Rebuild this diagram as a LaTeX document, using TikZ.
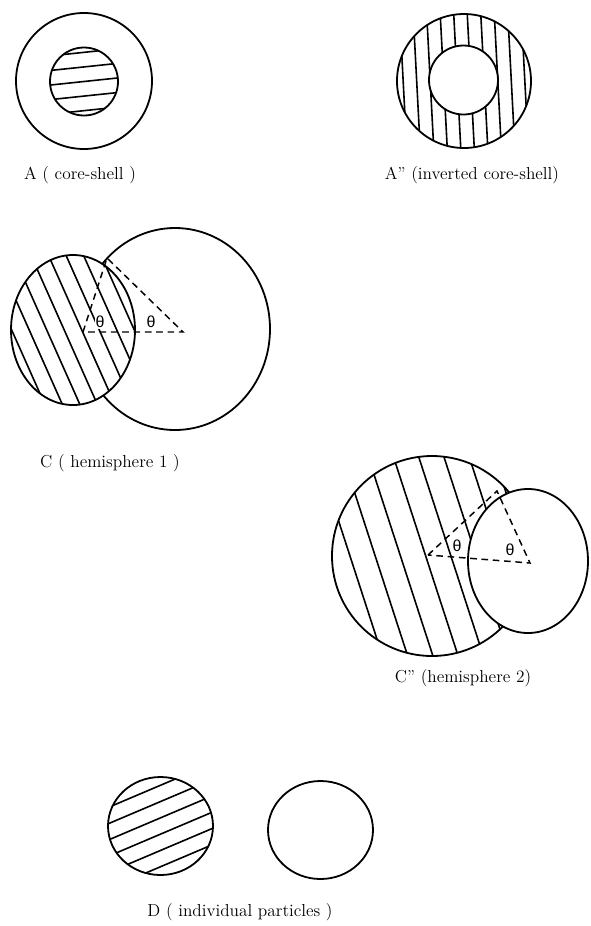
\documentclass[tikz,border=0pt]{standalone}
\usepackage{fontspec}
\newfontfamily\thetafont{Liberation Sans}

\begin{document}
\begin{tikzpicture}[
    x=0.75pt, y=-0.75pt,
    outline/.style={line width=1.35pt},
    hatch/.style={line width=1.2pt},
    dashline/.style={line width=1.1pt, dash pattern=on 5pt off 3.5pt},
    lab/.style={font=\fontsize{13}{15}\selectfont},
    ang/.style={font=\thetafont\fontsize{12}{14}\selectfont, fill=white, inner sep=0.6pt}
]
\useasboundingbox (0,0) rectangle (590,926);

% A: core-shell
\draw[outline] (84,81) circle (68);
\begin{scope}
  \clip (84,81.5) circle (34);
  \begin{scope}[shift={(84,81.5)}, rotate=6]
    \foreach \d in {-29,-14.5,...,30}
      \draw[hatch] (-50,\d) -- (50,\d);
  \end{scope}
\end{scope}
\draw[outline] (84,81.5) circle (34);
\node[lab] (labA) at (80,175) {A ( core-shell )};

% A'': inverted core-shell
\begin{scope}
  \clip (464,81) circle (67);
  \begin{scope}[shift={(464,81)}, rotate=-87]
    \foreach \d in {-60.75,-47.25,...,62}
      \draw[hatch] (-80,\d) -- (80,\d);
  \end{scope}
\end{scope}
\draw[outline] (464,81) circle (67);
\filldraw[outline, fill=white] (463.5,80) circle (34.5);
\node[lab] (labAi) at (472,175) {A'' (inverted core-shell)};

% C: hemisphere 1
\draw[outline] (175,329) ellipse [x radius=95, y radius=101];
\fill[white] (73,330) ellipse [x radius=62, y radius=75];
\begin{scope}
  \clip (73,330) ellipse [x radius=62, y radius=75];
  \begin{scope}[shift={(73,330)}, rotate=-66]
    \foreach \d in {-72,-56,...,74}
      \draw[hatch] (-120,\d) -- (120,\d);
  \end{scope}
\end{scope}
\draw[outline] (73,330) ellipse [x radius=62, y radius=75];
\coordinate (cL) at (83,332);
\coordinate (cT) at (107,258);
\coordinate (cR) at (183,332);
\draw[dashline] (cL) -- (cT) -- (cR) -- cycle;
\node[ang] (thC1) at (100,322) {θ};
\node[ang] (thC2) at (151,322) {θ};
\node[lab] (labC) at (110,463) {C ( hemisphere 1 )};

% C'': hemisphere 2
\begin{scope}
  \clip (432,556) circle (100);
  \begin{scope}[shift={(432,556)}, rotate=-72]
    \foreach \d in {-90,-66,...,92}
      \draw[hatch] (-130,\d) -- (130,\d);
  \end{scope}
\end{scope}
\draw[outline] (432,556) circle (100);
\filldraw[outline, fill=white] (528,561) ellipse [x radius=60, y radius=72];
\coordinate (hL) at (428,555);
\coordinate (hT) at (497,491);
\coordinate (hR) at (530,563);
\draw[dashline] (hL) -- (hT) -- (hR) -- cycle;
\node[ang] (thH1) at (457,546) {θ};
\node[ang] (thH2) at (510,550) {θ};
\node[lab] (labCi) at (463,678) {C'' (hemisphere 2)};

% D: individual particles
\begin{scope}
  \clip (160.5,826) ellipse [x radius=52.5, y radius=49];
  \begin{scope}[shift={(160.5,826)}, rotate=23]
    \foreach \d in {-37.5,-22.5,...,38}
      \draw[hatch] (-80,\d) -- (80,\d);
  \end{scope}
\end{scope}
\draw[outline] (160.5,826) ellipse [x radius=52.5, y radius=49];
\draw[outline] (320.5,830) ellipse [x radius=52.5, y radius=49];
\node[lab] (labD) at (240,912) {D ( individual particles )};
\end{tikzpicture}
\end{document}
